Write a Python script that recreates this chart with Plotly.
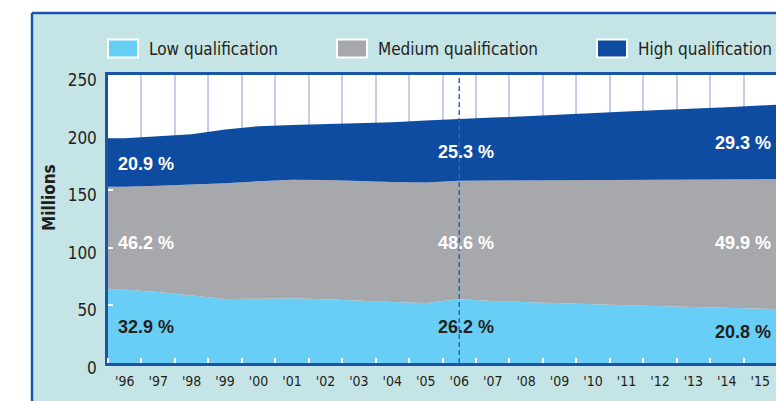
import plotly.graph_objects as go

# ---------------- data ----------------
years = list(range(1996, 2017))
year_labels = ["'" + str(y)[2:] for y in years]

low = [63.5, 61.7, 58.9, 55.6, 55.7, 56.2, 55.4, 54.0, 53.0, 52.0, 55.4,
       53.9, 52.8, 51.8, 51.0, 50.2, 49.5, 48.7, 47.8, 47.0, 46.4]
medium = [89.5, 92.1, 95.9, 100.4, 102.0, 102.9, 103.5, 103.7, 104.1, 104.6, 102.9,
          104.5, 105.8, 107.0, 108.0, 109.0, 109.8, 110.7, 111.7, 112.5, 113.2]
high = [42.0, 43.1, 43.8, 46.6, 47.9, 47.6, 48.4, 50.2, 51.9, 53.8, 53.6,
        54.6, 55.6, 56.6, 57.8, 59.1, 60.4, 61.2, 62.6, 64.0, 65.3]

series_names = ["Low qualification", "Medium qualification", "High qualification"]
share_low = ["32.9 %", "26.2 %", "20.8 %"]
share_medium = ["46.2 %", "48.6 %", "49.9 %"]
share_high = ["20.9 %", "25.3 %", "29.3 %"]
y_ticks = [0, 50, 100, 150, 200, 250]
marker_year = 2006

# ---------------- style ----------------
W, H = 776, 401
ML, MR, MT, MB = 108, 0, 75, 38
PW, PH = W - ML - MR, H - MT - MB
C_LOW, C_MED, C_HIGH = "#69CEF5", "#A7A8AC", "#0D4CA0"
C_PANEL = "#C5E4E6"
C_FRAME = "#1B54A8"
C_TEXT = "#231F20"
NARROW = "Liberation Sans Narrow, DejaVu Sans Condensed, Arial Narrow, sans-serif"
BOLD = "Liberation Sans, Arial, sans-serif"


# helpers converting window pixel positions to paper coordinates
def px(x):
    return (x - ML) / PW


def py(y):
    return (H - MB - y) / PH


# extend first value to the left edge of the plot (half a year before the first point)
xs = [years[0] - 0.5] + years

fig = go.Figure()
for name, vals, col in zip(series_names, [low, medium, high], [C_LOW, C_MED, C_HIGH]):
    fig.add_trace(go.Scatter(
        x=xs, y=[vals[0]] + vals, name=name, mode="lines",
        stackgroup="one", line=dict(width=0, color=col), fillcolor=col,
        hoverinfo="skip", showlegend=False,
    ))

shapes = [
    # white outer strips and panel frame
    dict(type="rect", xref="paper", yref="paper", x0=px(-20), x1=px(32), y0=py(-20), y1=py(H + 40),
         fillcolor="white", line=dict(width=0), layer="above"),
    dict(type="rect", xref="paper", yref="paper", x0=px(-20), x1=px(W + 40), y0=py(-20), y1=py(13),
         fillcolor="white", line=dict(width=0), layer="above"),
    dict(type="line", xref="paper", yref="paper", x0=px(32), x1=px(32), y0=py(13), y1=py(H + 40),
         line=dict(color=C_FRAME, width=2.5)),
    dict(type="line", xref="paper", yref="paper", x0=px(32), x1=px(W + 40), y0=py(13), y1=py(13),
         line=dict(color=C_FRAME, width=2.5)),
    # dashed year marker
    dict(type="line", xref="x", yref="paper", x0=marker_year, x1=marker_year, y0=0, y1=1,
         line=dict(color="#2B66C2", width=1.5, dash="5px,3px"), layer="above"),
]

annotations = []
# manual legend
legend_x = [108, 337, 597]
for name, col, lx in zip(series_names, [C_LOW, C_MED, C_HIGH], legend_x):
    shapes.append(dict(type="rect", xref="paper", yref="paper",
                       x0=px(lx), x1=px(lx + 30), y0=py(57.5), y1=py(39.5),
                       fillcolor=col, line=dict(color="white", width=2)))
    annotations.append(dict(xref="paper", yref="paper", x=px(lx + 39), y=py(48.5),
                            text=name, showarrow=False, xanchor="left", yanchor="middle",
                            font=dict(family=NARROW, size=17, color=C_TEXT)))

# share labels
label_x = [1995.73, 2005.32, 2013.59]
label_y = {"high": [172.5, 183.5, 191.3], "medium": [103.8, 103.8, 103.8], "low": [31.3, 31.3, 27.0]}
for key, texts, col in [("high", share_high, "white"), ("medium", share_medium, "white"),
                        ("low", share_low, C_TEXT)]:
    for t, lx, ly in zip(texts, label_x, label_y[key]):
        annotations.append(dict(xref="x", yref="y", x=lx, y=ly, text="<b>" + t + "</b>",
                                showarrow=False, xanchor="left", yanchor="middle",
                                font=dict(family=BOLD, size=18, color=col)))

annotations.append(dict(xref="paper", yref="paper", x=px(49), y=py(198), text="<b>Millions</b>",
                        textangle=-90, showarrow=False, xanchor="center", yanchor="middle",
                        font=dict(family=NARROW, size=17, color=C_TEXT)))

fig.update_layout(
    width=W, height=H, margin=dict(l=ML, r=MR, t=MT, b=MB, pad=0),
    paper_bgcolor=C_PANEL, plot_bgcolor="white",
    shapes=shapes, annotations=annotations, showlegend=False,
    xaxis=dict(
        range=[1995.5, 2015.47], tickvals=years, ticktext=year_labels, ticks="",
        showgrid=False, zeroline=False,
        showline=True, mirror=True, linecolor=C_FRAME, linewidth=2.5,
        tickfont=dict(family=NARROW, size=14, color=C_TEXT),
        ticklabelstandoff=3,
        minor=dict(tick0=1995.5, dtick=1, showgrid=True, gridcolor="#C7CCEA", gridwidth=1.5,
                   ticks="inside", ticklen=5, tickcolor="white", tickwidth=1.5),
    ),
    yaxis=dict(
        range=[0, 250], tickvals=y_ticks, ticks="inside", ticklen=5, tickcolor="white",
        tickwidth=1.5, showgrid=False, zeroline=False,
        showline=True, mirror=False, linecolor=C_FRAME, linewidth=2.5,
        tickfont=dict(family=NARROW, size=17, color=C_TEXT),
        ticklabelstandoff=5, ticklabelshift=5,
    ),
)

fig.write_html(
    "out.html",
    config={"displayModeBar": False},
    post_script="document.body.style.margin='0';document.body.style.overflow='hidden';",
)
